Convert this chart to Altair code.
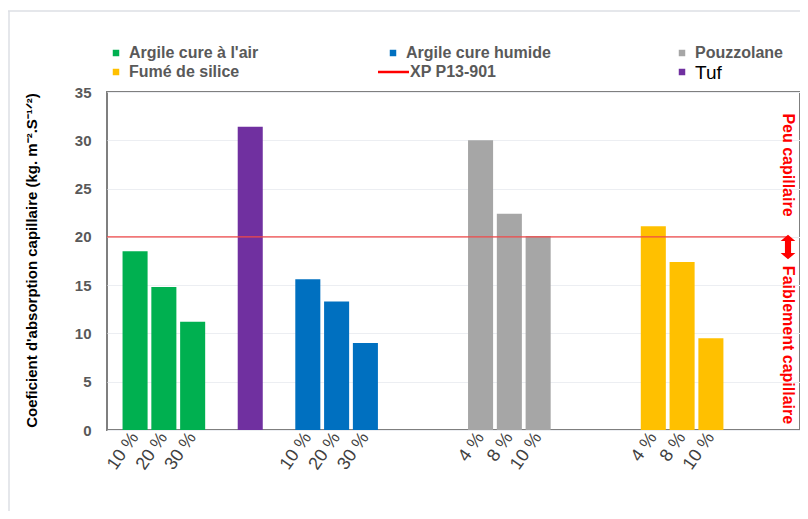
import altair as alt
import pandas as pd

# ---- data ----
series_names = ["Argile cure à l'air", "Argile cure humide", "Pouzzolane", "Fumé de silice", "Tuf"]
series_colors = ["#00b050", "#0070c0", "#a6a6a6", "#ffc000", "#7030a0"]

bar_keys = ["10 %|air", "20 %|air", "30 %|air", "|tuf",
            "10 %|hum", "20 %|hum", "30 %|hum",
            "4 %|pz", "8 %|pz", "10 %|pz",
            "4 %|fs", "8 %|fs", "10 %|fs"]
bar_series = ["Argile cure à l'air"] * 3 + ["Tuf"] + ["Argile cure humide"] * 3 + ["Pouzzolane"] * 3 + ["Fumé de silice"] * 3
bar_values = [18.5, 14.8, 11.2, 31.4, 15.6, 13.3, 9.0, 30.0, 22.4, 20.1, 21.1, 17.4, 9.5]

x_slots = ["10 %|air", "20 %|air", "30 %|air", "|gap1", "|tuf", "|gap2",
           "10 %|hum", "20 %|hum", "30 %|hum", "|gap3", "|gap4", "|gap5",
           "4 %|pz", "8 %|pz", "10 %|pz", "|gap6", "|gap7", "|gap8",
           "4 %|fs", "8 %|fs", "10 %|fs", "|gap9", "|gap10"]

threshold = [20]
threshold_label = "XP P13-901"
y_ticks = [0, 5, 10, 15, 20, 25, 30, 35]
y_title = "Coeficient d'absorption capillaire (kg. m⁻².S⁻¹ᐟ²)"
note_top = "Peu capillaire"
note_bottom = "Faiblement capillaire"

df = pd.DataFrame({"key": bar_keys, "series": bar_series, "value": bar_values})

W, H = 693, 338
FONT = "Liberation Sans"

bars = alt.Chart(df).mark_bar().encode(
    x=alt.X("key:N", sort=x_slots,
            scale=alt.Scale(domain=x_slots, paddingInner=0.13, paddingOuter=0.6, align=0.45),
            axis=alt.Axis(title=None, labelExpr="split(datum.value,'|')[0]", labelAngle=-55,
                          labelAlign="right", labelBaseline="middle", labelFontSize=18,
                          labelColor="#404040", labelFont=FONT, ticks=False, domain=False,
                          labelPadding=4, labelOverlap=False, grid=False)),
    y=alt.Y("value:Q", scale=alt.Scale(domain=[0, 35], nice=False),
            axis=alt.Axis(values=y_ticks, title=y_title, titleFont=FONT, titleFontSize=15,
                          titleFontWeight="bold", titleColor="#000000", titleAngle=-90,
                          titleX=-76, titleY=168, titleAlign="center", titleBaseline="middle",
                          labelFont=FONT, labelFontSize=15, labelFontWeight="bold",
                          labelColor="#595959", ticks=False, domain=False, labelPadding=16,
                          gridColor="#eceef2", gridWidth=1)),
    color=alt.Color("series:N", scale=alt.Scale(domain=series_names, range=series_colors), legend=None),
)

rule = alt.Chart(pd.DataFrame({"value": threshold})).mark_rule(color="#f04848", strokeWidth=1.3).encode(
    y="value:Q", x=alt.value(0), x2=alt.value(681)
)

one = pd.DataFrame({"a": [0]})

arrow = alt.Chart(one).mark_point(
    shape="M0,-1L0.6,-0.5L0.25,-0.5L0.25,0.5L0.6,0.5L0,1L-0.6,0.5L-0.25,0.5L-0.25,-0.5L-0.6,-0.5Z",
    filled=True, color="#ff0000", opacity=1, size=600
).encode(x=alt.value(681), y=alt.value(155))

t_top = alt.Chart(one).mark_text(angle=90, color="#ff0000", font=FONT, fontSize=16, fontWeight="bold",
                                 align="center", baseline="middle").encode(
    x=alt.value(681), y=alt.value(73), text=alt.value(note_top))
t_bot = alt.Chart(one).mark_text(angle=90, color="#ff0000", font=FONT, fontSize=16, fontWeight="bold",
                                 align="center", baseline="middle").encode(
    x=alt.value(681), y=alt.value(253), text=alt.value(note_bottom))

# ---- manual legend ----
legend_layers = []
sq_pos = [(9, -39), (286, -39), (575, -39), (9, -20), (575, -20)]
sq_names = ["Argile cure à l'air", "Argile cure humide", "Pouzzolane", "Fumé de silice", "Tuf"]
for (lx, ly), name in zip(sq_pos, sq_names):
    color = series_colors[series_names.index(name)]
    legend_layers.append(alt.Chart(one).mark_square(size=42, color=color, opacity=1).encode(
        x=alt.value(lx), y=alt.value(ly)))
    if name == "Tuf":
        legend_layers.append(alt.Chart(one).mark_text(align="left", baseline="middle", font=FONT,
                                                      fontSize=19, color="#000000").encode(
            x=alt.value(lx + 13), y=alt.value(ly + 1), text=alt.value(name)))
    else:
        legend_layers.append(alt.Chart(one).mark_text(align="left", baseline="middle", font=FONT,
                                                      fontSize=16, fontWeight="bold",
                                                      color="#595959").encode(
            x=alt.value(lx + 13), y=alt.value(ly), text=alt.value(name)))

legend_layers.append(alt.Chart(one).mark_rule(color="#ff0000", strokeWidth=2.5).encode(
    x=alt.value(271), x2=alt.value(302), y=alt.value(-20)))
legend_layers.append(alt.Chart(one).mark_text(align="left", baseline="middle", font=FONT,
                                              fontSize=16, fontWeight="bold", color="#595959").encode(
    x=alt.value(303), y=alt.value(-20), text=alt.value(threshold_label)))

# outer light frame
frame_top = alt.Chart(one).mark_rule(color="#dcdfe4", strokeWidth=1.5).encode(
    x=alt.value(-99), x2=alt.value(W + 1), y=alt.value(-81))
frame_left = alt.Chart(one).mark_rule(color="#dcdfe4", strokeWidth=1.5).encode(
    x=alt.value(-98), y=alt.value(-81), y2=alt.value(H + 81))

chart = alt.layer(frame_top, frame_left, bars, rule, arrow, t_top, t_bot, *legend_layers).properties(
    width=W, height=H,
    autosize=alt.AutoSizeParams(type="none"),
    padding={"left": 99, "top": 84, "right": 0, "bottom": 81},
    background="#ffffff",
).configure_view(stroke="#7f7f7f", strokeWidth=2)

chart.save("out.html", embed_options={"renderer": "svg", "actions": False})
